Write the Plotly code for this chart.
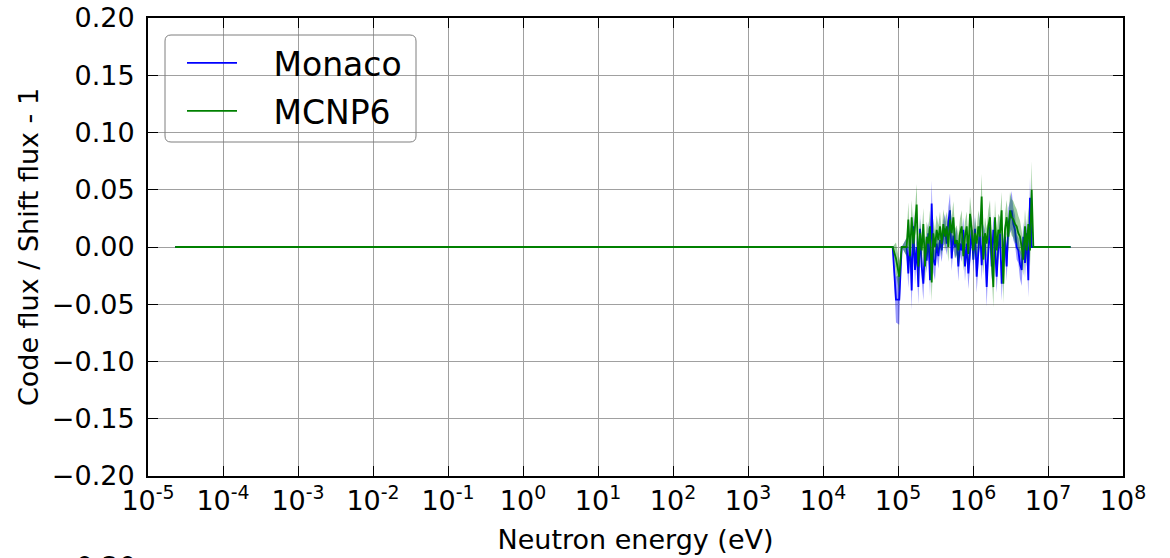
import plotly.graph_objects as go

# ---------------- data ----------------
energy_ev = [
    2.3e-5, 8.49e4, 9.40e4, 1.04e5, 1.12e5,
    130500, 137350, 144560, 152150, 160140, 168550, 177400, 186710, 196510, 206830,
    217690, 229120, 241150, 253810, 267130, 281160, 295920, 311450, 327800, 345010,
    363120, 382190, 402250, 423370, 445600, 468990, 493610, 519530, 546800, 575510,
    605720, 637520, 670990, 706220, 743300, 782320, 823390, 866620, 912120, 960010,
    1010400, 1063500, 1119300, 1178100, 1239900, 1305000, 1373500, 1445600, 1521500, 1601400,
    1685500, 1774000, 1867100, 1965100, 2068300, 2176900, 2291200, 2411500, 2538100, 2671300,
    2811600, 2959200, 3114500, 3278000, 3450100, 3631200, 3821900, 4022500, 4233700, 4456000,
    4689900, 4936100, 5195300, 5468000, 5755100, 6057200, 6375200,
    2.0e7,
]

monaco_ratio = [
    0.0, 0.0, -0.046, -0.046, 0.0,
    0.000, -0.023, 0.009, -0.038, 0.018, -0.020, 0.000, -0.035, 0.016, -0.017,
    -0.032, 0.000, -0.012, 0.012, -0.029, 0.038, -0.011, -0.016, 0.003, -0.008,
    0.006, -0.003, 0.012, 0.016, 0.003, 0.022, 0.032, -0.010, 0.010, 0.000,
    0.006, -0.017, 0.003, -0.003, 0.015, -0.017, 0.003, -0.023, -0.003, 0.015,
    -0.011, 0.016, -0.026, -0.003, 0.018, -0.016, 0.009, 0.003, -0.035, -0.003,
    0.018, -0.017, 0.015, 0.000, -0.026, 0.000, 0.012, -0.032, -0.003, 0.009,
    -0.017, 0.020, 0.026, 0.032, 0.020, 0.015, 0.000, -0.003, -0.015, -0.020,
    0.009, -0.014, 0.012, -0.029, 0.043, 0.000, 0.000,
    0.0,
]

monaco_err = [
    0.0, 0.0, 0.020, 0.022, 0.0,
    0.008, 0.013, 0.011, 0.017, 0.013, 0.013, 0.010, 0.015, 0.013, 0.011,
    0.015, 0.010, 0.011, 0.011, 0.014, 0.020, 0.011, 0.013, 0.010, 0.011,
    0.010, 0.010, 0.011, 0.013, 0.010, 0.013, 0.015, 0.011, 0.011, 0.010,
    0.011, 0.013, 0.010, 0.010, 0.011, 0.013, 0.010, 0.014, 0.011, 0.013,
    0.011, 0.013, 0.014, 0.011, 0.013, 0.013, 0.011, 0.011, 0.017, 0.011,
    0.013, 0.013, 0.013, 0.011, 0.014, 0.011, 0.013, 0.015, 0.011, 0.011,
    0.013, 0.014, 0.014, 0.017, 0.014, 0.013, 0.011, 0.011, 0.013, 0.014,
    0.013, 0.013, 0.013, 0.015, 0.018, 0.000, 0.000,
    0.0,
]

mcnp6_ratio = [
    0.0, 0.0, -0.010, -0.026, 0.0,
    0.000, 0.024, -0.008, 0.026, 0.003, 0.018, 0.037, -0.017, 0.012, -0.003,
    0.020, -0.017, 0.009, 0.003, 0.018, -0.031, 0.012, 0.000, 0.015, 0.006,
    0.018, 0.003, 0.020, 0.009, 0.018, 0.000, 0.024, 0.012, 0.026, 0.003,
    0.006, -0.003, 0.012, 0.018, -0.008, 0.009, 0.018, -0.006, 0.029, 0.015,
    -0.003, 0.012, 0.003, 0.018, 0.009, 0.044, -0.011, 0.012, 0.003, 0.018,
    0.026, -0.008, -0.035, 0.026, -0.003, 0.015, 0.012, 0.032, -0.032, 0.015,
    0.026, 0.009, 0.032, 0.026, 0.024, 0.020, 0.018, 0.012, 0.009, 0.000,
    -0.011, 0.018, -0.003, 0.020, -0.003, 0.050, 0.000,
    0.0,
]

mcnp6_err = [
    0.0, 0.0, 0.014, 0.014, 0.0,
    0.008, 0.015, 0.013, 0.015, 0.013, 0.014, 0.018, 0.014, 0.013, 0.013,
    0.014, 0.014, 0.013, 0.013, 0.014, 0.017, 0.013, 0.013, 0.013, 0.013,
    0.013, 0.011, 0.013, 0.013, 0.013, 0.013, 0.014, 0.013, 0.014, 0.013,
    0.013, 0.013, 0.013, 0.014, 0.013, 0.013, 0.013, 0.013, 0.015, 0.014,
    0.013, 0.014, 0.013, 0.014, 0.014, 0.020, 0.014, 0.014, 0.013, 0.014,
    0.015, 0.014, 0.018, 0.015, 0.014, 0.014, 0.014, 0.016, 0.017, 0.014,
    0.015, 0.014, 0.016, 0.016, 0.016, 0.016, 0.015, 0.015, 0.014, 0.014,
    0.014, 0.015, 0.014, 0.015, 0.014, 0.025, 0.000,
    0.0,
]

series_names = ["Monaco", "MCNP6"]
x_tick_exponents = list(range(-5, 9))
y_tick_values = [-0.20, -0.15, -0.10, -0.05, 0.00, 0.05, 0.10, 0.15, 0.20]

# ---------------- figure ----------------
FONT = "DejaVu Sans"
NBSP = "\u00a0"


def band(x, y, e):
    upper = [a + b for a, b in zip(y, e)]
    lower = [a - b for a, b in zip(y, e)]
    return list(x) + list(x[::-1]), upper + lower[::-1]


fig = go.Figure()

bx, by = band(energy_ev, monaco_ratio, monaco_err)
fig.add_trace(go.Scatter(x=bx, y=by, fill="toself", mode="lines",
                         line=dict(width=0), fillcolor="rgba(0,0,255,0.4)",
                         hoverinfo="skip", showlegend=False))
fig.add_trace(go.Scatter(x=energy_ev, y=monaco_ratio, mode="lines",
                         name=NBSP * 3 + series_names[0], legendgroup="a",
                         line=dict(color="#0000ff", width=1.8)))

bx, by = band(energy_ev, mcnp6_ratio, mcnp6_err)
fig.add_trace(go.Scatter(x=bx, y=by, fill="toself", mode="lines",
                         line=dict(width=0), fillcolor="rgba(0,128,0,0.38)",
                         hoverinfo="skip", showlegend=False))
fig.add_trace(go.Scatter(x=energy_ev, y=mcnp6_ratio, mode="lines",
                         name=NBSP * 3 + series_names[1], legendgroup="b",
                         line=dict(color="#008000", width=1.8)))

# legend frame (rounded rectangle, transparent like the reference)
W, H = 975.0, 458.0
x0, x1 = (165 - 148) / W, (416 - 148) / W
y0, y1 = (476 - 142) / H, (476 - 35) / H
rx, ry = 6 / W, 6 / H
path = (f"M{x0+rx},{y1} L{x1-rx},{y1} Q{x1},{y1} {x1},{y1-ry} "
        f"L{x1},{y0+ry} Q{x1},{y0} {x1-rx},{y0} L{x0+rx},{y0} "
        f"Q{x0},{y0} {x0},{y0+ry} L{x0},{y1-ry} Q{x0},{y1} {x0+rx},{y1} Z")
fig.add_shape(type="path", path=path, xref="paper", yref="paper",
              line=dict(color="#7f7f7f", width=1), layer="above")

fig.update_layout(
    width=1170, height=558,
    margin=dict(l=148, r=47, t=18, b=82),
    paper_bgcolor="white", plot_bgcolor="white",
    font=dict(family=FONT, size=27, color="black"),
    showlegend=True,
    legend=dict(x=(182 - 148) / W, y=(476 - 35) / H, xanchor="left", yanchor="top",
                bgcolor="rgba(0,0,0,0)", borderwidth=0,
                font=dict(family=FONT, size=33, color="black"),
                tracegroupgap=2, itemwidth=50),
    xaxis=dict(
        type="log", range=[-5, 8], automargin=False,
        tickvals=[10.0 ** k for k in x_tick_exponents],
        ticktext=[f"10<sup>{k}</sup>" for k in x_tick_exponents],
        ticks="inside", ticklen=10, tickwidth=1, tickcolor="black",
        mirror="allticks", showline=True, linecolor="black", linewidth=2,
        showgrid=True, gridcolor="#a0a0a0", gridwidth=1,
        zeroline=False,
        title=dict(text="Neutron energy (eV)", standoff=15,
                   font=dict(family=FONT, size=27)),
        tickfont=dict(family=FONT, size=27),
    ),
    yaxis=dict(
        range=[-0.2, 0.2], automargin=False,
        tickvals=y_tick_values, tickformat=".2f",
        ticks="inside", ticklen=10, tickwidth=1, tickcolor="black",
        mirror="allticks", showline=True, linecolor="black", linewidth=2,
        showgrid=True, gridcolor="#a0a0a0", gridwidth=1,
        zeroline=False, ticklabelstandoff=6,
        title=dict(text="Code flux / Shift flux - 1", standoff=5,
                   font=dict(family=FONT, size=27)),
        tickfont=dict(family=FONT, size=27),
    ),
)

# top of the next panel's first tick label, cut by the page edge as in the reference
fig.add_annotation(text="0.20", xref="paper", yref="paper",
                   x=(138 - 148) / W, y=(476 - 549) / H,
                   xanchor="right", yanchor="top", showarrow=False,
                   font=dict(family=FONT, size=27))

fig.write_html("out.html")
